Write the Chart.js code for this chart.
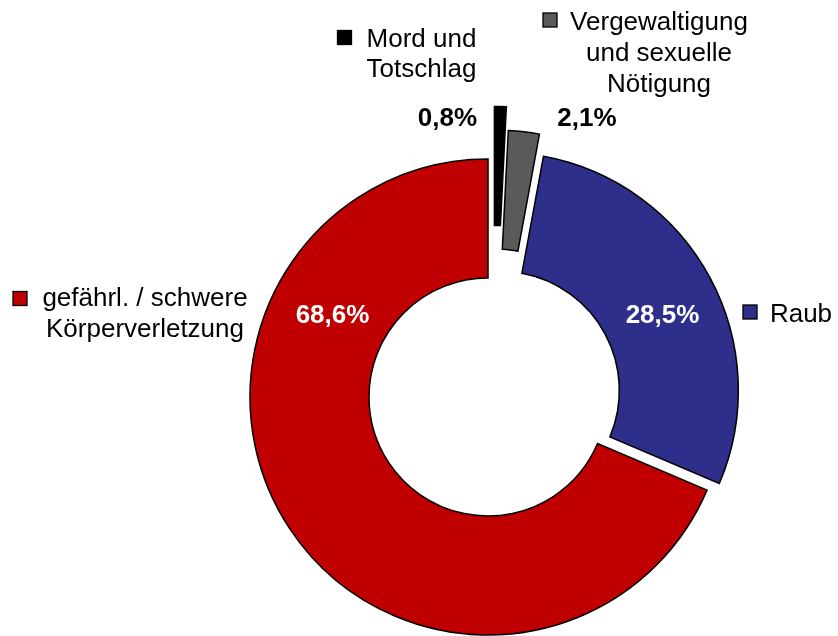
<!DOCTYPE html>
<html>
<head>
<meta charset="utf-8">
<style>
  html, body { margin: 0; padding: 0; background: #fff; }
  #wrap { width: 838px; height: 636px; }
</style>
<script src="https://cdn.jsdelivr.net/npm/chart.js@4.4.0/dist/chart.umd.min.js"></script>
</head>
<body>
<div id="wrap"><canvas id="chart" width="838" height="636"></canvas></div>
<script>
/* ── Data ─────────────────────────────────────────────── */
const categories = ['Mord und Totschlag', 'Vergewaltigung und sexuelle Nötigung', 'Raub', 'gefährl. / schwere Körperverletzung'];
const shares     = [0.8, 2.1, 28.5, 68.6];

/* ── Styles ───────────────────────────────────────────── */
const colors      = ['#000000', '#5a5a5a', '#2e2e8b', '#c00000'];
const explode     = [53, 30, 14, 0];      // px pulled out from the centre
const explodeTilt = [5.5, 9.5, 0, 0];     // deg, small sideways lean like the original
const nameLines = [['Mord und', 'Totschlag'], ['Vergewaltigung', 'und sexuelle', 'Nötigung'], ['Raub'], ['gefährl. / schwere', 'Körperverletzung']];
const namePos   = [{ x: 421.5, y: 46.5 }, { x: 659, y: 30 }, { x: 801, y: 321.5 }, { x: 145, y: 306 }];
const keyPos    = [{ x: 337.5, y: 30.5 }, { x: 543, y: 13 }, { x: 743, y: 305 }, { x: 13, y: 291.5 }];
const pctPos    = [{ x: 447.5, y: 126 }, { x: 587, y: 126 }, { x: 662.5, y: 322.5 }, { x: 332.5, y: 322.5 }];
const pctColors = ['#000000', '#000000', '#ffffff', '#ffffff'];
const FONT = '"Liberation Sans", Arial, sans-serif';

const fmtPct = v => v.toFixed(1).replace('.', ',') + '%';

/* ── Plugins ──────────────────────────────────────────── */
// pull slices out from the centre along their mid angle
const explodePlugin = {
  id: 'explode',
  beforeDatasetsDraw(chart) {
    const { left, right, top, bottom } = chart.chartArea;
    const cx = (left + right) / 2, cy = (top + bottom) / 2;
    chart.getDatasetMeta(0).data.forEach((arc, i) => {
      const dir = (arc.startAngle + arc.endAngle) / 2 + (explodeTilt[i] || 0) * Math.PI / 180;
      const d = explode[i] || 0;
      arc.x = cx + Math.cos(dir) * d;
      arc.y = cy + Math.sin(dir) * d;
    });
  }
};

// category names with legend keys + percentage labels
const labelPlugin = {
  id: 'labels',
  afterDatasetsDraw(chart) {
    const ctx = chart.ctx;
    ctx.save();
    ctx.textBaseline = 'alphabetic';
    ctx.textAlign = 'center';

    ctx.font = '26px ' + FONT;
    categories.forEach((c, i) => {
      ctx.fillStyle = '#000';
      nameLines[i].forEach((line, j) => {
        ctx.fillText(line, namePos[i].x, namePos[i].y + j * 30.8);
      });
      const k = keyPos[i];
      ctx.fillStyle = colors[i];
      ctx.fillRect(k.x, k.y, 14, 14);
      ctx.strokeStyle = '#000';
      ctx.lineWidth = 1.3;
      ctx.strokeRect(k.x, k.y, 14, 14);
    });

    ctx.font = 'bold 26px ' + FONT;
    shares.forEach((v, i) => {
      ctx.fillStyle = pctColors[i];
      ctx.fillText(fmtPct(v), pctPos[i].x, pctPos[i].y);
    });
    ctx.restore();
  }
};

/* ── Chart ────────────────────────────────────────────── */
new Chart(document.getElementById('chart').getContext('2d'), {
  type: 'doughnut',
  data: {
    labels: categories,
    datasets: [{
      data: shares,
      backgroundColor: colors,
      borderColor: '#000',
      borderWidth: 1.5,
      borderJoinStyle: 'miter'
    }]
  },
  options: {
    responsive: false,
    animation: false,
    devicePixelRatio: 1,
    radius: 238,
    cutout: '50%',
    rotation: 0,
    layout: { padding: { left: 138, top: 158, right: 0, bottom: 0 } },
    plugins: {
      legend: { display: false },
      tooltip: { enabled: false }
    }
  },
  plugins: [explodePlugin, labelPlugin]
});
</script>
</body>
</html>
